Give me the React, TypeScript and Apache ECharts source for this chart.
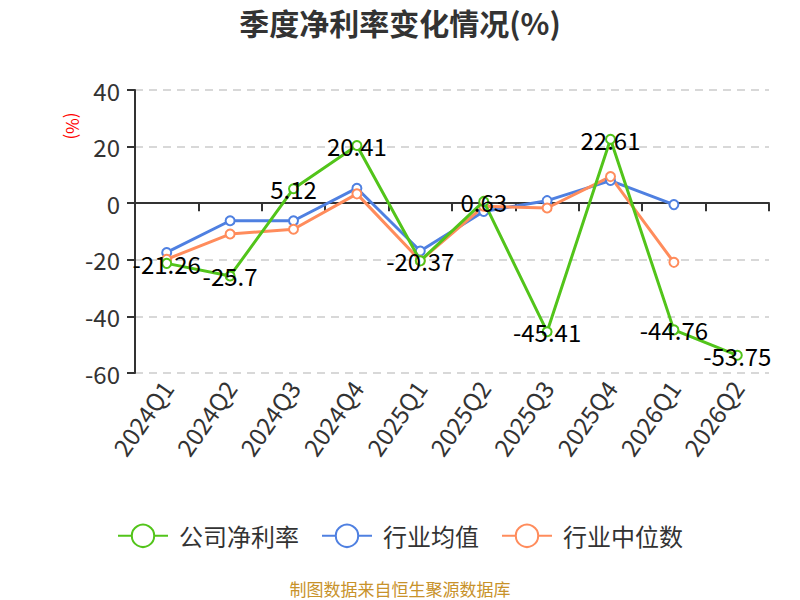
import React, { useEffect, useRef } from "react";
import * as echarts from "echarts";

const categories = ["2024Q1", "2024Q2", "2024Q3", "2024Q4", "2025Q1", "2025Q2", "2025Q3", "2025Q4", "2026Q1", "2026Q2"];
const companyRate = [-21.26, -25.7, 5.12, 20.41, -20.37, 0.63, -45.41, 22.61, -44.76, -53.75];
const industryAvg = [-17.4, -6.2, -6.2, 5.3, -16.9, -2.9, 0.9, 8.0, -0.5, null];
const industryMedian = [-19.8, -10.9, -9.2, 3.3, -20.3, -1.1, -1.7, 9.4, -20.9, null];
const yTicks = { min: -60, max: 40, interval: 20 };

const FONT = "'Noto Sans CJK SC', 'Noto Sans', sans-serif";

export default function App() {
  const ref = useRef<HTMLDivElement>(null);
  useEffect(() => {
    document.body.style.margin = "0";
    const chart = echarts.init(ref.current!, undefined, { renderer: "svg" });
    const lineSeries = (name: string, data: (number | null)[], color: string, z: number, withLabel: boolean) => ({
      name,
      type: "line",
      data,
      z,
      symbol: "emptyCircle",
      symbolSize: 9,
      lineStyle: { color, width: 3 },
      itemStyle: { color, borderWidth: 2 },
      label: withLabel
        ? { show: true, position: "inside", color: "#000", fontSize: 24, fontFamily: FONT }
        : { show: false },
    });
    chart.setOption({
      animation: false,
      textStyle: { fontFamily: FONT },
      title: {
        text: "季度净利率变化情况(%)",
        left: "center",
        top: 2,
        textStyle: { fontSize: 30, fontWeight: "bold", color: "#333", fontFamily: FONT },
      },
      grid: { left: 135, right: 31, top: 90, bottom: 227, containLabel: false },
      legend: {
        bottom: 47,
        left: "center",
        itemWidth: 50,
        itemHeight: 28,
        itemGap: 22,
        textStyle: { fontSize: 24, color: "#333", fontFamily: FONT, padding: [0, 0, 0, 6] },
        data: ["公司净利率", "行业均值", "行业中位数"],
      },
      graphic: [
        {
          type: "text",
          x: 73,
          y: 126,
          rotation: -Math.PI / 2,
          style: { text: "(%)", fill: "#ff0000", fontSize: 17, fontFamily: FONT, textAlign: "center", textVerticalAlign: "middle" },
        },
        {
          type: "text",
          left: "center",
          bottom: 3,
          style: { text: "制图数据来自恒生聚源数据库", fill: "#C8922A", fontSize: 17, fontFamily: FONT },
        },
      ],
      xAxis: [
        {
          type: "category",
          data: categories,
          position: "bottom",
          axisLine: { show: false, onZero: false },
          axisTick: { show: false },
          axisLabel: { rotate: 55, fontSize: 24, color: "#333", margin: 10, interval: 0, fontFamily: FONT },
        },
        {
          type: "category",
          data: categories,
          position: "top",
          axisLine: { show: true, onZero: true, lineStyle: { color: "#333", width: 2 } },
          axisTick: { show: true, inside: true, length: 8, lineStyle: { color: "#333", width: 2 } },
          axisLabel: { show: false },
        },
      ],
      yAxis: {
        type: "value",
        min: yTicks.min,
        max: yTicks.max,
        interval: yTicks.interval,
        axisLine: { show: true, lineStyle: { color: "#333", width: 2 } },
        axisTick: { show: true, length: 8, lineStyle: { color: "#333", width: 2 } },
        axisLabel: { fontSize: 24, color: "#333", margin: 15, fontFamily: FONT },
        splitLine: { show: true, lineStyle: { color: "#ccc", type: [8, 6], width: 1.5 } },
      },
      series: [
        lineSeries("公司净利率", companyRate, "#52C41A", 4, true),
        lineSeries("行业均值", industryAvg, "#4F80E1", 3, false),
        lineSeries("行业中位数", industryMedian, "#FF8C5C", 3, false),
      ],
    });
    return () => chart.dispose();
  }, []);
  return <div ref={ref} style={{ width: 800, height: 600 }} />;
}
